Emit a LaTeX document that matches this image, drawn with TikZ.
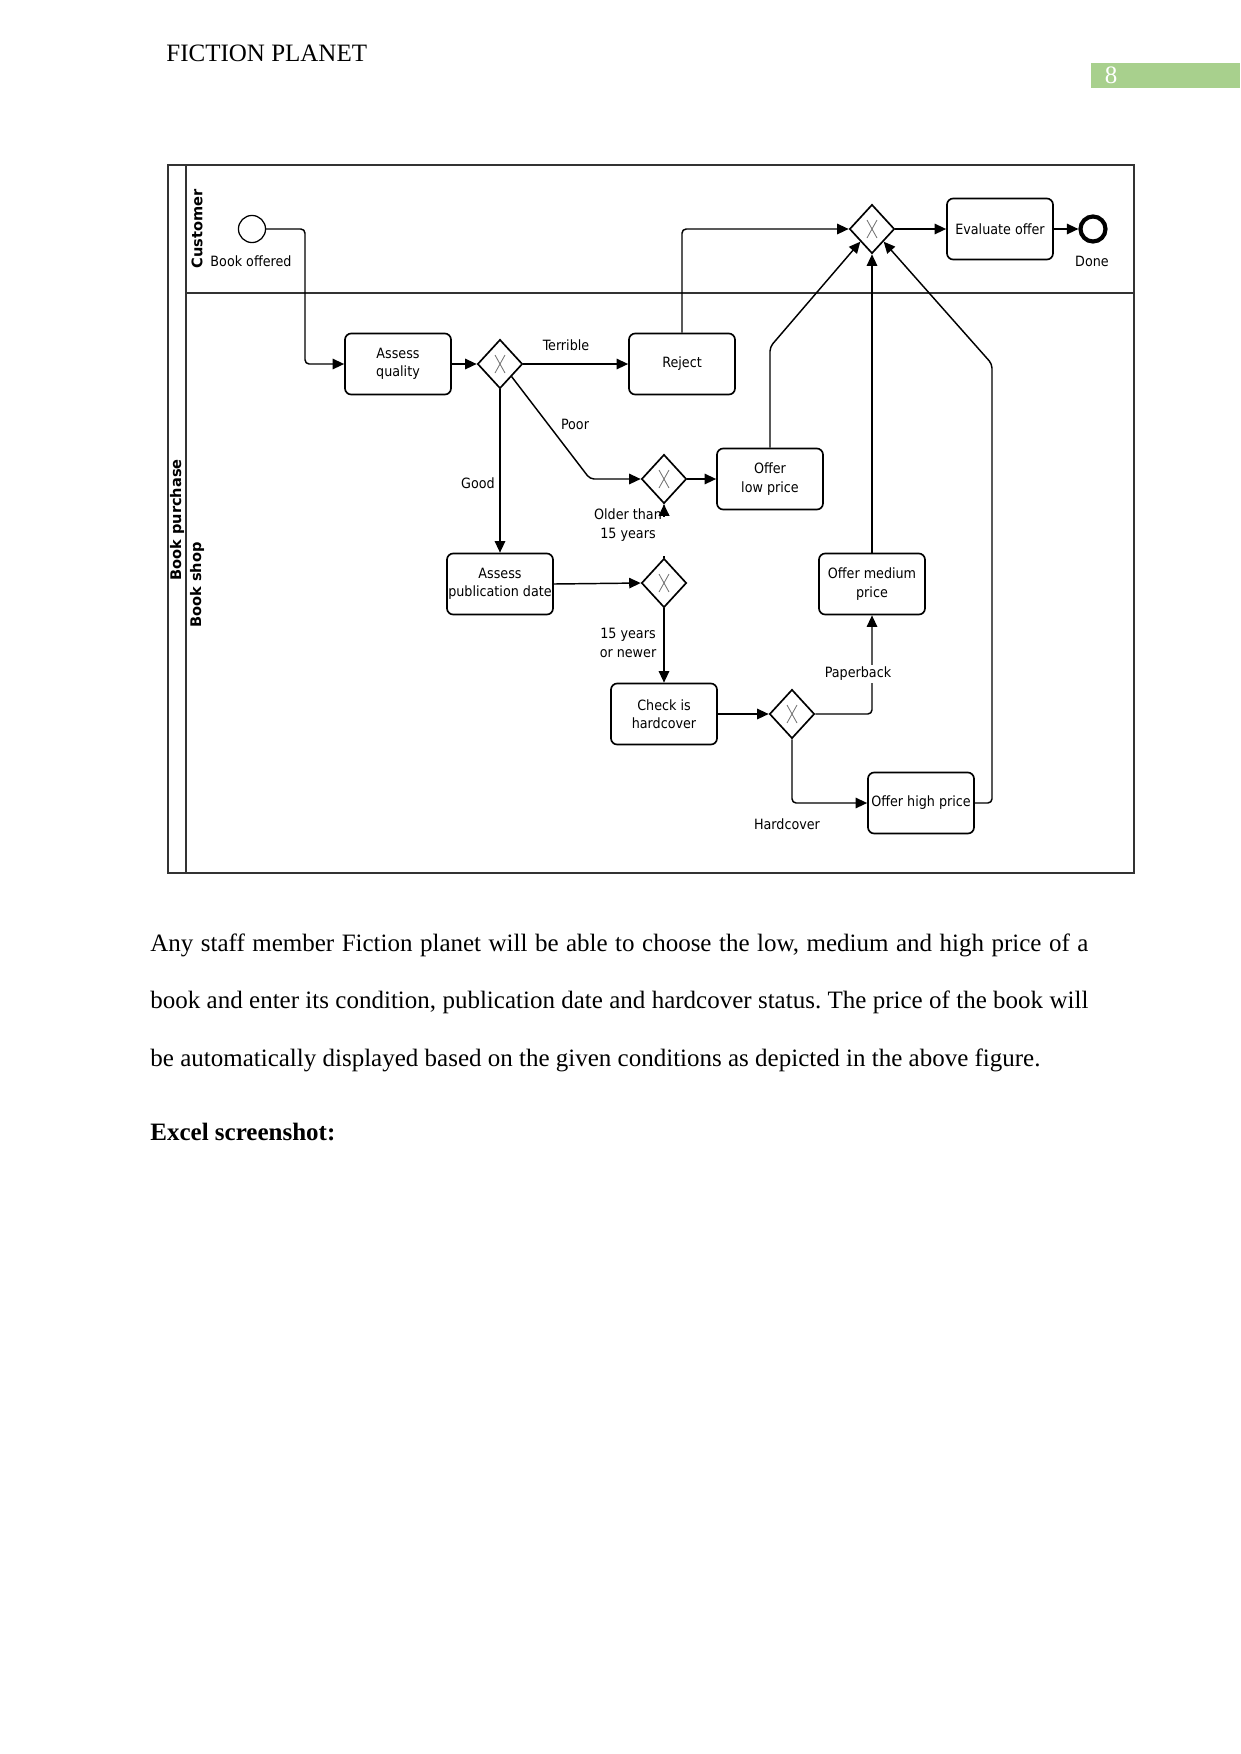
\documentclass[tikz,border=0pt]{standalone}
\usepackage{fontspec}
\setmainfont{Liberation Serif}
\newfontfamily\diagfont{DejaVu Sans Condensed}
\newfontfamily\lanefont{DejaVu Sans}
\usetikzlibrary{shapes.geometric,arrows.meta}
\definecolor{pagegreen}{RGB}{168,208,141}
\frenchspacing
\tikzset{
  dfont/.style={font=\diagfont\fontsize{6.8}{8.8}\selectfont},
  task/.style={draw, rounded corners=3pt, minimum width=50.9pt, minimum height=29.3pt,
    align=center, dfont, line width=0.8pt, inner sep=0.5pt},
  gw/.style={diamond, draw, minimum width=21.6pt, minimum height=23.5pt, inner sep=0pt,
    line width=0.8pt,
    path picture={\draw[black!55, line width=0.4pt]
      ([shift={(-5,-9)}]path picture bounding box.center) -- ++(10,18)
      ([shift={(5,-9)}]path picture bounding box.center) -- ++(-10,18);}},
  flow/.style={draw, line width=0.7pt, -{Triangle[length=5.5pt,width=5pt]}, rounded corners=2pt},
  lbl/.style={dfont, align=center, inner sep=1pt},
  lane/.style={font=\lanefont\bfseries\fontsize{7}{8}\selectfont, rotate=90},
  body/.style={anchor=base west, font=\fontsize{12}{14}\selectfont, inner sep=0pt},
}
\begin{document}
\begin{tikzpicture}[x=0.48pt,y=-0.48pt]
\useasboundingbox (0,0) rectangle (1241,1754);

% header
\node[anchor=base west, font=\fontsize{12}{14}\selectfont, inner sep=0pt] (hdr) at (166,61) {FICTION PLANET};
\fill[pagegreen] (1091,63) rectangle (1240,88);
\node[anchor=base, font=\fontsize{12}{14}\selectfont, text=white, inner sep=0pt] (pgno) at (1111,83) {8};

% pool and lanes
\draw[line width=0.6pt, black!80] (168,165) rectangle (1134,873);
\draw[line width=0.6pt, black!80] (186,165) -- (186,873);
\draw[line width=0.6pt, black!80] (186,293) -- (1134,293);
\node[lane] (lpool) at (177,520) {Book purchase};
\node[lane] (lcust) at (197,229) {Customer};
\node[lane] (lshop) at (197,585) {Book shop};

% nodes
\node[circle, draw, line width=0.6pt, minimum size=13pt, inner sep=0pt] (start) at (252,229) {};
\node[lbl] (startlbl) at (251,261) {Book offered};
\node[task] (aq) at (398,364) {Assess\\quality};
\node[gw] (g1) at (500,364) {};
\node[task] (rej) at (682,364) {Reject};
\node[gw] (gtop) at (872,229) {};
\node[task] (ev) at (1000,229) {Evaluate offer};
\node[circle, draw, line width=2pt, minimum size=12pt, inner sep=0pt] (done) at (1093,229) {};
\node[lbl] (donelbl) at (1092,261) {Done};
\node[gw] (g2) at (664,479) {};
\node[task] (low) at (770,479) {Offer\\low price};
\node[task] (apd) at (500,584) {Assess\\publication date};
\node[gw] (g3) at (664,583) {};
\node[task] (med) at (872,584) {Offer medium\\price};
\node[task] (chk) at (664,714) {Check is\\hardcover};
\node[gw] (g4) at (792,714) {};
\node[task] (high) at (921,803) {Offer high price};

% connectors
\draw[flow] (start.east) -- (305,229) |- (aq.west);
\draw[flow] (aq.east) -- (g1.west);
\draw[flow] (g1.east) -- (rej.west);
\node[lbl] (lterr) at (566,345) {Terrible};
\draw[flow] (g1.south east) -- (590,479) -- (g2.west);
\node[lbl] (lpoor) at (575,424) {Poor};
\draw[flow] (g2.east) -- (low.west);
\draw[flow] (low.north) -- (770,347) -- (gtop.south west);
\draw[flow] (rej.north) |- (gtop.west);
\draw[flow] (med.north) -- (gtop.south);
\draw[flow] (high.east) -- (992,803) -- (992,364) -- (gtop.south east);
\draw[flow] (gtop.east) -- (ev.west);
\draw[flow] (ev.east) -- (done.west);
\draw[flow] (g1.south) -- (apd.north);
\node[lbl] (lgood) at (478,483) {Good};
\draw[flow] (apd.east) -- (g3.west);
\draw[flow] (g3.north) -- (g2.south);
\fill[white] (598,507) rectangle (668,556);
\node[lbl] (lold) at (628,525) {Older than\\15 years};
\draw[flow] ([yshift=-6pt]g2.south) -- (g2.south);
\draw[flow] (g3.south) -- (chk.north);
\node[lbl] (lnew) at (628,643) {15 years\\or newer};
\draw[flow] (chk.east) -- (g4.west);
\draw[flow] (g4.east) -| (med.south);
\node[lbl, fill=white] (lpaper) at (858,674) {Paperback};
\draw[flow] (g4.south) |- (high.west);
\node[lbl] (lhard) at (787,824) {Hardcover};

% body text
\node[body] (t1) at (150,951) {\hbox to 450.2pt{Any staff member Fiction planet will be able to choose the low, medium and high price of a}};
\node[body] (t2) at (150,1008) {\hbox to 450.2pt{book and enter its condition, publication date and hardcover status. The price of the book will}};
\node[body] (t3) at (150,1066) {be automatically displayed based on the given conditions as depicted in the above figure.};
\node[body, font=\fontsize{12}{14}\selectfont\bfseries] (t4) at (150,1140) {Excel screenshot:};
\end{tikzpicture}
\end{document}
